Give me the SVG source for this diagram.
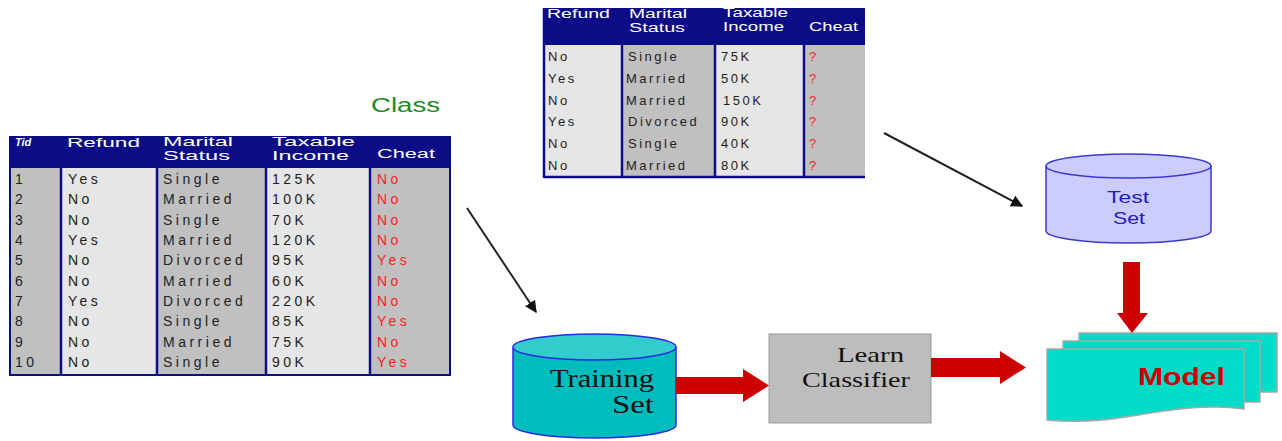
<svg xmlns="http://www.w3.org/2000/svg" width="1282" height="441" viewBox="0 0 1282 441">
<defs>
<style>
.hd{font-family:"Liberation Sans",Arial,sans-serif;font-size:12px;fill:#fff}
.cell{font-family:"Liberation Sans",Arial,sans-serif;font-size:14px;fill:#222;letter-spacing:3.5px}
.red{fill:#ff2020}
.thd{font-family:"Liberation Sans",Arial,sans-serif;font-size:12px;fill:#fff}
.tcell{font-family:"Liberation Sans",Arial,sans-serif;font-size:13px;fill:#222;letter-spacing:2.5px}
.navy{fill:#0c0c86}
.lt{fill:#e6e6e6}
.gy{fill:#c0c0c0}
.sep{stroke:#0c0c86;stroke-width:2.5}
.serif{font-family:"Liberation Serif","Times New Roman",serif;fill:#111}
.redarrow{fill:#cc0000}
.conn{stroke:#222;stroke-width:2;fill:none;marker-end:url(#ah)}
</style>
<marker id="ah" viewBox="0 0 10 10" refX="9" refY="5" markerWidth="6" markerHeight="6" orient="auto" markerUnits="strokeWidth">
<path d="M0,0 L10,5 L0,10 z" fill="#111"/>
</marker>
</defs>
<rect width="1282" height="441" fill="#fff"/>

<g id="class-label">
<text x="371" y="112" font-family="Liberation Sans,Arial,sans-serif" font-size="20" fill="#1e8a1e" textLength="69" lengthAdjust="spacingAndGlyphs">Class</text>
</g>

<g id="training-table">
<rect x="10" y="137" width="440" height="31" class="navy"/>
<rect x="10" y="168" width="51" height="207" class="gy"/>
<rect x="61" y="168" width="96" height="207" class="lt"/>
<rect x="157" y="168" width="109" height="207" class="gy"/>
<rect x="266" y="168" width="104" height="207" class="lt"/>
<rect x="370" y="168" width="80" height="207" class="gy"/>
<line x1="61" y1="168" x2="61" y2="375" class="sep"/>
<line x1="157" y1="168" x2="157" y2="375" class="sep"/>
<line x1="266" y1="168" x2="266" y2="375" class="sep"/>
<line x1="370" y1="168" x2="370" y2="375" class="sep"/>
<rect x="10" y="137" width="440" height="238" fill="none" stroke="#0c0c86" stroke-width="2"/>
<text x="15" y="146" font-family="Liberation Sans,Arial,sans-serif" font-size="11" font-style="italic" font-weight="bold" fill="#fff">Tid</text>
<text x="67" y="147" class="hd" textLength="73" lengthAdjust="spacingAndGlyphs">Refund</text>
<text x="163" y="146" class="hd" textLength="70" lengthAdjust="spacingAndGlyphs">Marital</text>
<text x="163" y="160" class="hd" textLength="67" lengthAdjust="spacingAndGlyphs">Status</text>
<text x="272" y="146" class="hd" textLength="83" lengthAdjust="spacingAndGlyphs">Taxable</text>
<text x="272" y="160" class="hd" textLength="77" lengthAdjust="spacingAndGlyphs">Income</text>
<text x="377" y="158" class="hd" textLength="58" lengthAdjust="spacingAndGlyphs">Cheat</text>

<g class="cell">
<text x="15" y="184">1</text><text x="68" y="184">Yes</text><text x="163" y="184">Single</text><text x="272" y="184">125K</text><text x="377" y="184" class="red">No</text>
<text x="15" y="204">2</text><text x="68" y="204">No</text><text x="163" y="204">Married</text><text x="272" y="204">100K</text><text x="377" y="204" class="red">No</text>
<text x="15" y="225">3</text><text x="68" y="225">No</text><text x="163" y="225">Single</text><text x="272" y="225">70K</text><text x="377" y="225" class="red">No</text>
<text x="15" y="245">4</text><text x="68" y="245">Yes</text><text x="163" y="245">Married</text><text x="272" y="245">120K</text><text x="377" y="245" class="red">No</text>
<text x="15" y="265">5</text><text x="68" y="265">No</text><text x="163" y="265">Divorced</text><text x="272" y="265">95K</text><text x="377" y="265" class="red">Yes</text>
<text x="15" y="286">6</text><text x="68" y="286">No</text><text x="163" y="286">Married</text><text x="272" y="286">60K</text><text x="377" y="286" class="red">No</text>
<text x="15" y="306">7</text><text x="68" y="306">Yes</text><text x="163" y="306">Divorced</text><text x="272" y="306">220K</text><text x="377" y="306" class="red">No</text>
<text x="15" y="326">8</text><text x="68" y="326">No</text><text x="163" y="326">Single</text><text x="272" y="326">85K</text><text x="377" y="326" class="red">Yes</text>
<text x="15" y="347">9</text><text x="68" y="347">No</text><text x="163" y="347">Married</text><text x="272" y="347">75K</text><text x="377" y="347" class="red">No</text>
<text x="15" y="367">10</text><text x="68" y="367">No</text><text x="163" y="367">Single</text><text x="272" y="367">90K</text><text x="377" y="367" class="red">Yes</text>
</g>
</g>

<g id="test-table">
<rect x="545" y="8" width="320" height="37" class="navy"/>
<rect x="545" y="45" width="77" height="132" class="lt"/>
<rect x="622" y="45" width="93" height="132" class="gy"/>
<rect x="715" y="45" width="89" height="132" class="lt"/>
<rect x="804" y="45" width="61" height="132" class="gy"/>
<line x1="622" y1="45" x2="622" y2="177" class="sep"/>
<line x1="715" y1="45" x2="715" y2="177" class="sep"/>
<line x1="804" y1="45" x2="804" y2="177" class="sep"/>
<line x1="544" y1="8" x2="544" y2="178" class="sep"/>
<line x1="544" y1="177" x2="865" y2="177" class="sep"/>
<text x="547" y="18" class="thd" textLength="63" lengthAdjust="spacingAndGlyphs">Refund</text>
<text x="629" y="18" class="thd" textLength="58" lengthAdjust="spacingAndGlyphs">Marital</text>
<text x="629" y="32" class="thd" textLength="56" lengthAdjust="spacingAndGlyphs">Status</text>
<text x="723" y="17" class="thd" textLength="65" lengthAdjust="spacingAndGlyphs">Taxable</text>
<text x="723" y="31" class="thd" textLength="61" lengthAdjust="spacingAndGlyphs">Income</text>
<text x="809" y="31" class="thd" textLength="49" lengthAdjust="spacingAndGlyphs">Cheat</text>
<g class="tcell">
<text x="548" y="61">No</text><text x="628" y="61">Single</text><text x="721" y="61">75K</text><text x="809" y="61" class="red">?</text>
<text x="548" y="83">Yes</text><text x="626" y="83">Married</text><text x="721" y="83">50K</text><text x="809" y="83" class="red">?</text>
<text x="548" y="105">No</text><text x="626" y="105">Married</text><text x="723" y="105">150K</text><text x="809" y="105" class="red">?</text>
<text x="548" y="126">Yes</text><text x="628" y="126">Divorced</text><text x="721" y="126">90K</text><text x="809" y="126" class="red">?</text>
<text x="548" y="148">No</text><text x="628" y="148">Single</text><text x="721" y="148">40K</text><text x="809" y="148" class="red">?</text>
<text x="548" y="170">No</text><text x="626" y="170">Married</text><text x="721" y="170">80K</text><text x="809" y="170" class="red">?</text>
</g>
</g>

<g id="training-set">
<path d="M513,347 V425 A81.5,13 0 0 0 676,425 V347" fill="#00bcbc" stroke="#2a2ae0" stroke-width="1.5"/>
<ellipse cx="594.5" cy="347" rx="81.5" ry="13" fill="#33cccc" stroke="#2a2ae0" stroke-width="1.5"/>
<text x="654" y="387" class="serif" font-size="25" text-anchor="end" textLength="104" lengthAdjust="spacingAndGlyphs">Training</text>
<text x="654" y="413" class="serif" font-size="25" text-anchor="end" textLength="42" lengthAdjust="spacingAndGlyphs">Set</text>
</g>

<g id="learn-classifier">
<rect x="769" y="334" width="162" height="89" fill="#bdbdbd" stroke="#999" stroke-width="1"/>
<text x="904" y="362" class="serif" font-size="22" text-anchor="end" textLength="67" lengthAdjust="spacingAndGlyphs">Learn</text>
<text x="910" y="387" class="serif" font-size="22" text-anchor="end" textLength="108" lengthAdjust="spacingAndGlyphs">Classifier</text>
</g>

<g id="test-set">
<path d="M1046,166 V231 A82.5,12 0 0 0 1211,231 V166" fill="#ccccff" stroke="#3a3ad0" stroke-width="1.5"/>
<ellipse cx="1128.5" cy="166" rx="82.5" ry="12" fill="#ccccff" stroke="#3a3ad0" stroke-width="1.5"/>
<text x="1128" y="203" font-family="Liberation Sans,Arial,sans-serif" font-size="17" fill="#2020c0" text-anchor="middle" textLength="42" lengthAdjust="spacingAndGlyphs">Test</text>
<text x="1129" y="224" font-family="Liberation Sans,Arial,sans-serif" font-size="17" fill="#2020c0" text-anchor="middle" textLength="32" lengthAdjust="spacingAndGlyphs">Set</text>
</g>

<g id="model">
<path d="M1079,333 H1277 V392 H1079 Z" fill="#00dcc8" stroke="#a8a8a8" stroke-width="1.5"/>
<path d="M1063,341 H1260 V402 H1063 Z" fill="#00dcc8" stroke="#a8a8a8" stroke-width="1.5"/>
<path d="M1047,349 H1244 V409 C1205,403 1165,411 1125,417 C1095,422 1068,422 1047,420 Z" fill="#00dcc8" stroke="#a8a8a8" stroke-width="1.5"/>
<text x="1138" y="385" font-family="Liberation Sans,Arial,sans-serif" font-size="23" font-weight="bold" fill="#cc0000" textLength="87" lengthAdjust="spacingAndGlyphs">Model</text>
</g>

<g id="connectors">
<line x1="467" y1="208" x2="536" y2="312" class="conn"/>
<line x1="884" y1="133" x2="1022" y2="206" class="conn"/>
<path d="M676,377 H743 V369 L769,385.5 L743,402 V394 H676 Z" class="redarrow"/>
<path d="M931,358 H1000 V351 L1026,367.5 L1000,384 V377 H931 Z" class="redarrow"/>
<path d="M1123,262 H1140 V313 H1148 L1132,333 L1117,313 H1123 Z" class="redarrow"/>
</g>
</svg>
